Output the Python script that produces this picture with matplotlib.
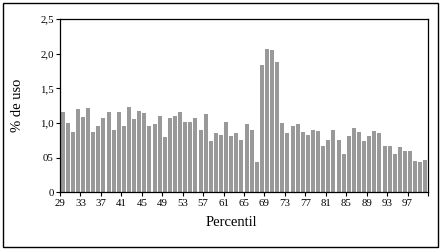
import numpy as np
import matplotlib
matplotlib.use("Agg")
import matplotlib.pyplot as plt
from matplotlib.patches import Rectangle

# percentiles 29..100 and % de uso
percentiles = list(range(29, 101))
uso = [1.16, 1.00, 0.87, 1.20, 1.09, 1.22, 0.87, 0.96, 1.07, 1.16,
       0.90, 1.16, 0.96, 1.23, 1.06, 1.17, 1.14, 0.96, 0.99, 1.10,
       0.80, 1.07, 1.10, 1.16, 1.01, 1.01, 1.07, 0.90, 1.13, 0.74,
       0.86, 0.83, 1.01, 0.81, 0.86, 0.75, 0.99, 0.90, 0.44, 1.84,
       2.07, 2.05, 1.88, 1.00, 0.86, 0.96, 0.99, 0.87, 0.83, 0.90,
       0.88, 0.67, 0.75, 0.90, 0.75, 0.55, 0.81, 0.93, 0.87, 0.74,
       0.81, 0.88, 0.86, 0.67, 0.67, 0.55, 0.65, 0.60, 0.60, 0.45,
       0.44, 0.47]
ytick_vals = [0, 0.5, 1.0, 1.5, 2.0, 2.5]
ytick_labels = ["0", "05", "1,0", "1,5", "2,0", "2,5"]

plt.rcParams['font.family'] = ['Liberation Serif', 'DejaVu Serif']

W, H = 443, 250
fig = plt.figure(figsize=(W / 100, H / 100), dpi=100)
ax = fig.add_axes([60 / W, 1 - 192.3 / H, 368 / W, 173.3 / H])

n = len(percentiles)
pos = np.arange(n) + 0.5
ax.bar(pos, uso, width=0.78, color='#999999', edgecolor='none')

ax.set_xlim(0, n)
ax.set_ylim(0, 2.5)
ax.set_yticks(ytick_vals)
ax.set_yticklabels(ytick_labels)
xt = np.arange(0, n + 1, 4)
ax.set_xticks(xt)
ax.set_xticklabels([str(percentiles[i]) if i < n else "" for i in xt])

for s in ax.spines.values():
    s.set_linewidth(0.9)
    s.set_color('black')
ax.tick_params(axis='both', direction='out', length=3, width=0.8,
               labelsize=7.8, pad=1.5, colors='black')

ax.set_ylabel('% de uso', fontsize=10.5)
ax.yaxis.set_label_coords(-0.098, 0.5)
ax.set_xlabel('Percentil', fontsize=10.5)
ax.xaxis.set_label_coords(0.467, -0.135)

fig.patches.append(Rectangle((2.5 / W, 3.5 / H), 435.5 / W, 243.5 / H,
                             transform=fig.transFigure, fill=False,
                             edgecolor='black', linewidth=1.0))

fig.savefig('out.png', dpi=100)
